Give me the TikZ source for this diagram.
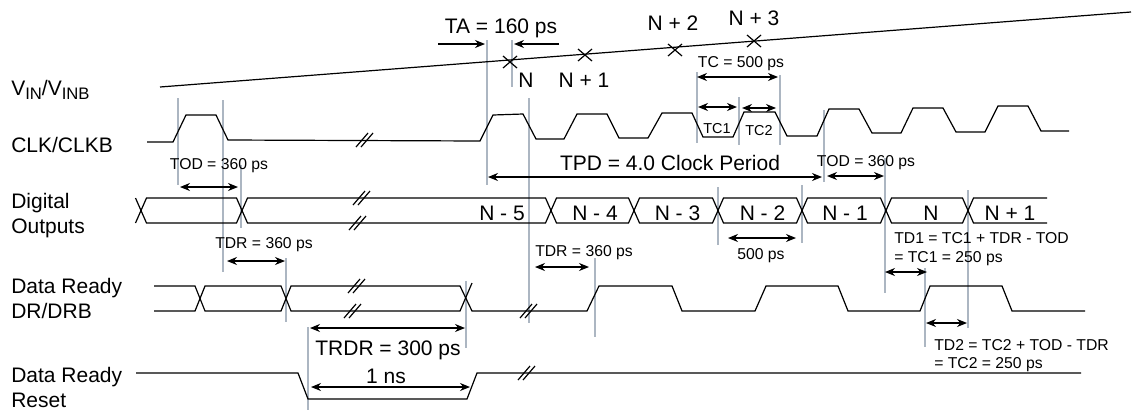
\documentclass[tikz,border=0pt]{standalone}
\usepackage{fontspec}
\setmainfont{Liberation Sans}
\usetikzlibrary{arrows.meta}
\definecolor{guidec}{RGB}{172,182,194}
\newcommand\subtx[1]{\raisebox{-3.7pt}{\fontsize{12.5}{12.5}\selectfont #1}}
\newcommand\breakmk[2]{\draw[wave] ({#1-9},{#2+7})--({#1+3},{#2-7}) ({#1-4},{#2+7})--({#1+8},{#2-7});}
\newcommand\crossmk[2]{\draw[wave] ({#1-7},{#2-6})--({#1+7},{#2+6}) ({#1-7},{#2+6})--({#1+7},{#2-6});}
\newcommand\buscell[2]{\draw[wave] (#1,210.5)--({#1+5.5},198)--({#2-5.5},198)--(#2,210.5)--({#2-5.5},223)--({#1+5.5},223)--cycle;}
\begin{document}
\begin{tikzpicture}[x=0.75pt,y=-0.75pt,
  wave/.style={line width=0.9pt, line join=miter},
  guide/.style={draw=guidec, line width=0.8pt},
  dim/.style={line width=0.9pt, {Stealth[length=7.5pt,width=6pt]}-{Stealth[length=7.5pt,width=6pt]}},
  arr/.style={line width=0.9pt, -{Stealth[length=7.5pt,width=6pt]}},
  big/.style={font=\fontsize{15.75}{18}\selectfont, inner sep=0pt, anchor=base},
  small/.style={font=\fontsize{11.8}{14}\selectfont, inner sep=0pt, anchor=base},
  smallw/.style={font=\fontsize{11.8}{14}\selectfont, inner sep=0pt, anchor=base west},
  tiny/.style={font=\fontsize{10.8}{13}\selectfont, inner sep=0pt, anchor=base},
  lbl/.style={font=\fontsize{15.75}{18}\selectfont, inner sep=0pt, anchor=base west}]
\useasboundingbox (0,0) rectangle (1134,411);

% guide lines
\foreach \gx/\ga/\gb in {178/98/185, 223/100/272, 241/165/228, 286/258/322, 487/40/185,
  512/40/87, 529/98/323, 595/258/337, 697/72/143, 739/97/145, 780/75/145, 718/187/245,
  802/185/243, 824/110/182, 885/158/293, 968/190/328, 925/268/347, 308/327/410, 466/281/348}
  \draw[guide] (\gx,\ga)--(\gx,\gb);

% left labels
\node[lbl] (vin) at (11,95) {V\subtx{IN}/V\subtx{INB}};
\node[lbl] (clk) at (11,152) {CLK/CLKB};
\node[lbl] (do1) at (11,208) {Digital};
\node[lbl] (do2) at (11,233) {Outputs};
\node[lbl] (dr1) at (11,293) {Data Ready};
\node[lbl] (dr2) at (11,318) {DR/DRB};
\node[lbl] (rs1) at (11,382) {Data Ready};
\node[lbl] (rs2) at (11,407) {Reset};

% VIN line and samples
\draw[wave] (160,87)--(1131,12);
\crossmk{510}{62}
\crossmk{585}{55}
\crossmk{675}{50}
\crossmk{754}{41}
\node[big] (tN) at (526,87) {N};
\node[big] (tN1) at (584,87) {N + 1};
\node[big] (tN2) at (673,30) {N + 2};
\node[big] (tN3) at (754,25) {N + 3};
\node[big] (ta) at (501,33) {TA = 160 ps};
\draw[arr] (438,44)--(485,44);
\draw[arr] (559,44)--(514,44);

% CLK
\draw[wave] (147,142)--(173,142)--(186,115)--(216,115)--(228,140)--(480,141)--(493,115)--(523,114)--(536,139)--(564,139)--(577,114)--(607,114)--(619,138)--(648,138)--(662,113)--(692,113)--(703,137)--(733,137)--(744,112)--(775,112)--(787,136)--(817,136)--(829,109)--(859,109)--(872,133)--(901,133)--(913,108)--(943,108)--(956,132)--(985,132)--(998,106)--(1028,106)--(1041,131)--(1069,131);
\breakmk{365}{140}

% TC
\node[small] (tc) at (741,67) {TC = 500 ps};
\draw[dim] (697,77)--(778,77);
\draw[dim] (698,107)--(737,107);
\draw[dim] (742,108)--(776,108);
\node[tiny] (tc1) at (717,133) {TC1};
\node[tiny] (tc2) at (759,135) {TC2};

% TOD / TPD
\node[small] (tod1) at (219,169) {TOD = 360 ps};
\draw[dim] (180,187)--(238,187);
\node[big] (tpd) at (670,170) {TPD = 4.0 Clock Period};
\draw[dim] (488,177)--(822,177);
\node[small] (tod2) at (866,166) {TOD = 360 ps};
\draw[dim] (827,176)--(884,176);

% Digital outputs bus
\draw[wave] (135.5,198)--(141,210.5)--(135.5,223);
\buscell{141}{242}
\buscell{242}{551}
\buscell{551}{634}
\buscell{634}{718}
\buscell{718}{802}
\buscell{802}{886}
\buscell{886}{968}
\draw[wave] (1047,198)--(973.5,198)--(968,210.5)--(973.5,223)--(1047,223);
\breakmk{362}{198}
\breakmk{358}{223}
\node[big] (b5) at (502,220) {N - 5};
\node[big] (b4) at (595,220) {N - 4};
\node[big] (b3) at (677.5,220) {N - 3};
\node[big] (b2) at (762.5,220) {N - 2};
\node[big] (b1) at (845,220) {N - 1};
\node[big] (b0) at (931,220) {N};
\node[big] (bp1) at (1010,220) {N + 1};

% TDR etc
\node[small] (tdr1) at (264,248) {TDR = 360 ps};
\draw[dim] (227,261)--(285,261);
\node[small] (tdr2) at (584,256) {TDR = 360 ps};
\draw[dim] (535,267)--(589,267);
\draw[dim] (728,238)--(796,238);
\node[small] (p500) at (761,259) {500 ps};
\node[smallw] (td1a) at (894,243) {TD1 = TC1 + TDR - TOD};
\node[smallw] (td1b) at (894,262) {= TC1 = 250 ps};
\draw[dim] (885,272)--(927,272);
\draw[dim] (926,323)--(967,323);
\node[smallw] (td2a) at (934,350) {TD2 = TC2 + TOD - TDR};
\node[smallw] (td2b) at (934,368) {= TC2 = 250 ps};

% Data ready
\draw[wave] (154,286)--(195,286)--(200,298.5)--(195,311)--(154,311);
\draw[wave] (200,298.5)--(205,286)--(281,286)--(286,298.5)--(281,311)--(205,311)--cycle;
\draw[wave] (286,298.5)--(291,286)--(460,286)--(472,311)--(587,311)--(599,286)--(672,286)--(682,311)--(755,311)--(766,286)--(838,286)--(848,311)--(920,311)--(930,286)--(1002,286)--(1012,311)--(1085,311);
\draw[wave] (286,298.5)--(291,311)--(460,311)--(472,283);
\breakmk{357}{286}
\breakmk{353}{311}
\breakmk{529}{311}

% TRDR
\draw[dim] (310,328)--(465,328);
\node[big] (trdr) at (388,355) {TRDR = 300 ps};
\node[big] (ns) at (386,383) {1 ns};
\draw[dim] (311,387)--(470,387);

% Reset
\draw[wave] (136,373)--(298,373)--(308,399)--(467,399)--(477,373)--(1081,373);
\breakmk{527}{373}
\end{tikzpicture}
\end{document}
